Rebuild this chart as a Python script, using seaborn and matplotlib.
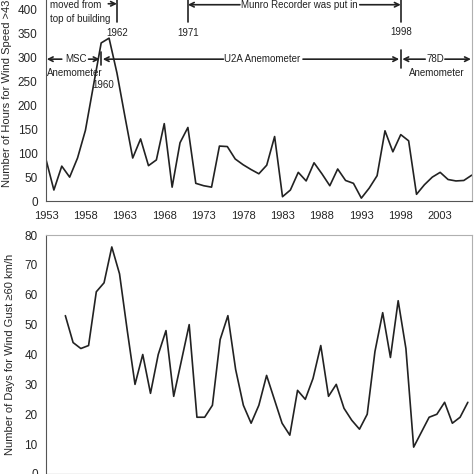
import seaborn as sns
import matplotlib.pyplot as plt
import pandas as pd

# hours per year with wind speed > 43 (top panel)
hour_years = list(range(1953, 2008))
hours = [87, 23, 73, 50, 90, 148, 240, 331, 341, 268,
         178, 90, 130, 74, 86, 162, 29, 122, 154, 37,
         32, 29, 115, 114, 88, 76, 66, 57, 75, 135,
         9, 23, 60, 42, 80, 57, 32, 67, 43, 37,
         6, 27, 53, 147, 103, 139, 126, 14, 34, 50,
         60, 45, 42, 43, 54]

# days per year with wind gust >= 60 km/h (bottom panel)
gust_years = list(range(1955, 2008))
gust_days = [53, 44, 42, 43, 61, 64, 76, 67, 48, 30,
             40, 27, 40, 48, 26, 38, 50, 19, 19, 23,
             45, 53, 35, 23, 17, 23, 33, 25, 17, 13,
             28, 25, 32, 43, 26, 30, 22, 18, 15, 20,
             41, 54, 39, 58, 42, 9, 14, 19, 20, 24,
             17, 19, 24]

label_years = list(range(1953, 2004, 5))
msc_end, moved_year, munro_year, u2a_end = 1960, 1962, 1971, 1998

sns.set_style("white")
plt.rcParams["font.family"] = ["Liberation Sans", "DejaVu Sans"]
plt.rcParams["text.color"] = "#222222"

dark = "#222222"
light = "#b0b0b0"

fig = plt.figure(figsize=(4.74, 4.74), dpi=100)
ax1 = fig.add_axes([46 / 474, 273 / 474, 425.7 / 474, 214.9 / 474])
ax2 = fig.add_axes([46 / 474, 0.0, 425.7 / 474, 239 / 474])

top = pd.DataFrame({"year": hour_years, "hours": hours})
bot = pd.DataFrame({"year": gust_years, "days": gust_days})

sns.lineplot(data=top, x="year", y="hours", ax=ax1, color=dark, linewidth=1.2)
sns.lineplot(data=bot, x="year", y="days", ax=ax2, color=dark, linewidth=1.2)

# top panel axes
ax1.set_xlim(1953, 2007)
ax1.set_ylim(0, 450)
ax1.set_xticks(hour_years)
ax1.set_xticklabels([str(y) if y in label_years else "" for y in hour_years],
                    fontsize=8)
ax1.set_yticks(range(0, 451, 50))
ax1.tick_params(axis="y", labelsize=8.5, length=3, color="#666666", pad=3)
ax1.tick_params(axis="x", length=3, color="#666666", pad=4)
ax1.set_xlabel("")
ax1.set_ylabel("Number of Hours for Wind Speed >43", fontsize=8, labelpad=4)
ax1.spines["top"].set_visible(False)
ax1.spines["right"].set_color(light)
ax1.spines["left"].set_color("#555555")
ax1.spines["bottom"].set_color("#555555")

# bottom panel axes
ax2.set_xlim(1952.5, 2007.5)
ax2.set_ylim(0, 80)
ax2.set_xticks([])
ax2.set_yticks(range(0, 81, 10))
ax2.tick_params(axis="y", labelsize=8.5, length=3, color="#666666", pad=3)
ax2.set_xlabel("")
ax2.set_ylabel("Number of Days for Wind Gust \u226560 km/h", fontsize=8,
               labelpad=7)
ax2.spines["top"].set_color(light)
ax2.spines["right"].set_color(light)
ax2.spines["left"].set_color("#555555")

# station history annotations on the top panel
fs = 7
arrow = dict(arrowstyle="->", color=dark, lw=1.2, mutation_scale=8,
             shrinkA=0, shrinkB=0)

for yr in (moved_year, munro_year, u2a_end):
    ax1.plot([yr, yr], [374, 470], color=dark, lw=1.2, clip_on=False)
ax1.text(moved_year, 352, str(moved_year), ha="center", va="center", fontsize=fs)
ax1.text(munro_year, 352, str(munro_year), ha="center", va="center", fontsize=fs)
ax1.text(u2a_end, 354, str(u2a_end), ha="center", va="center", fontsize=fs)

ax1.text(1953.5, 410, "moved from", ha="left", va="center", fontsize=fs)
ax1.text(1953.5, 381, "top of building", ha="left", va="center", fontsize=fs)
ax1.annotate("", xy=(moved_year, 413), xytext=(1960.9, 413),
             arrowprops=arrow, annotation_clip=False)

y_top = 411
ax1.annotate("", xy=(munro_year, y_top), xytext=(1977.6, y_top),
             arrowprops=arrow, annotation_clip=False)
ax1.text(1985.1, y_top, "Munro Recorder was put in", ha="center",
         va="center", fontsize=fs)
ax1.annotate("", xy=(u2a_end, y_top), xytext=(1992.8, y_top),
             arrowprops=arrow, annotation_clip=False)

y_mid = 297
for yr, lo, hi in ((msc_end, 285, 312), (u2a_end, 279, 317)):
    ax1.plot([yr, yr], [lo, hi], color=dark, lw=1.2)

ax1.annotate("", xy=(1953.1, y_mid), xytext=(1955.0, y_mid), arrowprops=arrow)
ax1.text(1956.8, y_mid, "MSC", ha="center", va="center", fontsize=fs)
ax1.annotate("", xy=(msc_end - 0.2, y_mid), xytext=(1958.4, y_mid),
             arrowprops=arrow)
ax1.text(1956.6, 268, "Anemometer", ha="center", va="center", fontsize=fs)
ax1.text(msc_end + 0.2, 243, str(msc_end), ha="center", va="center", fontsize=fs)

ax1.annotate("", xy=(msc_end + 0.2, y_mid), xytext=(1975.5, y_mid),
             arrowprops=arrow)
ax1.text(1980.4, y_mid, "U2A Anemometer", ha="center", va="center", fontsize=fs)
ax1.annotate("", xy=(u2a_end - 0.2, y_mid), xytext=(1985.6, y_mid),
             arrowprops=arrow)

ax1.annotate("", xy=(u2a_end + 0.2, y_mid), xytext=(2001.1, y_mid),
             arrowprops=arrow)
ax1.text(2002.4, y_mid, "78D", ha="center", va="center", fontsize=fs)
ax1.annotate("", xy=(2006.9, y_mid), xytext=(2003.6, y_mid), arrowprops=arrow)
ax1.text(2002.6, 268, "Anemometer", ha="center", va="center", fontsize=fs)

fig.savefig("out.png", dpi=100)
